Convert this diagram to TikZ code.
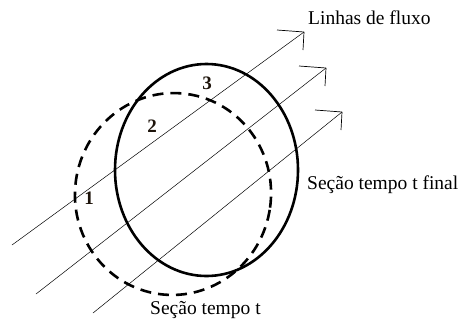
\documentclass[tikz,border=0pt]{standalone}
\usepackage{fontspec}
\setmainfont{Liberation Serif}
\usetikzlibrary{shapes.geometric}
\begin{document}
\begin{tikzpicture}[x=1pt,y=-1pt,
  flow/.style={line width=0.5pt},
  tipmark/.style={line width=0.7pt},
  sec/.style={draw,ellipse,line width=2.6pt,inner sep=0pt,outer sep=0pt},
  dashsec/.style={sec,dash pattern=on 11pt off 7pt},
  lbl/.style={font=\fontsize{19.5}{22}\selectfont,inner sep=0pt,anchor=west},
  num/.style={font=\fontsize{19}{22}\selectfont\bfseries,inner sep=0pt,text=black!85!brown}]
\useasboundingbox (0,0) rectangle (465,322);
% sections
\node[dashsec,minimum width=196pt,minimum height=202pt,rotate=-8] (old) at (173,194) {};
\node[sec,minimum width=183pt,minimum height=212pt] (new) at (206.5,170) {};
% flow lines
\coordinate (s1) at (12,245); \coordinate (e1) at (304,32);
\coordinate (s2) at (36,294); \coordinate (e2) at (326,68);
\coordinate (s3) at (93,313); \coordinate (e3) at (342,112);
\draw[flow] (s1) -- (e1);
\draw[flow] (s2) -- (e2);
\draw[flow] (s3) -- (e3);
\foreach \e in {e1,e2,e3}{
  \draw[tipmark] (\e) -- ++(-27,-2);
  \draw[tipmark] (\e) -- ++(-1,18);
}
% numbers
\node[num] (n1) at (89,198) {1};
\node[num] (n2) at (152,126) {2};
\node[num] (n3) at (207,83) {3};
% labels
\node[lbl] (l1) at (308,18) {Linhas de fluxo};
\node[lbl] (l2) at (307,185) {Seção tempo t final};
\node[lbl] (l3) at (150,310) {Seção tempo t};
\end{tikzpicture}
\end{document}
